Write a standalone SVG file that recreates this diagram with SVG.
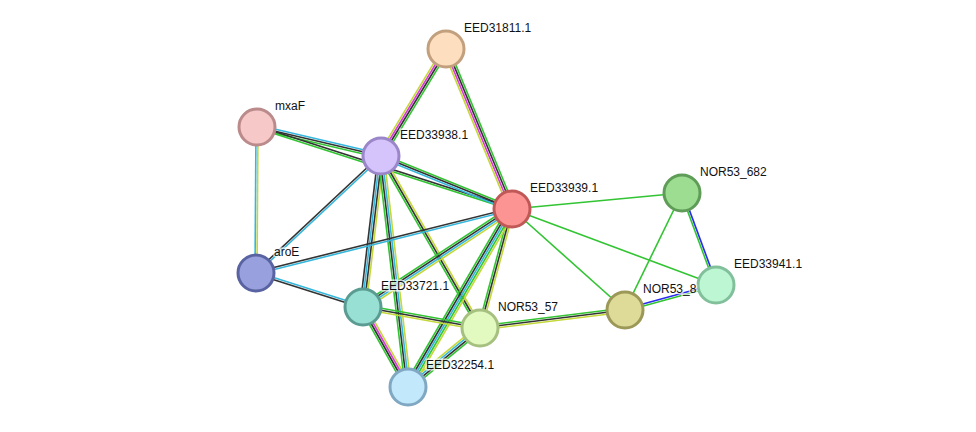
<svg xmlns="http://www.w3.org/2000/svg" width="976" height="432" viewBox="0 0 976 432">
<style>
line{stroke-width:1.6}
.g{stroke:#33c433}.k{stroke:#333}.m{stroke:#d83bd8}.y{stroke:#c4d83a}.c{stroke:#35b7dc}.b{stroke:#2b2bf0}
circle{stroke-width:3}
text{font-family:"Liberation Sans",Arial,sans-serif;font-size:12px;fill:#111;stroke:#fff;stroke-width:3px;stroke-opacity:0.7;paint-order:stroke}
</style>
<rect width="976" height="432" fill="#fff"/>
<g id="edges">
<g><line class="g" x1="446" y1="49" x2="381" y2="156" transform="translate(2.57,1.56)"/><line class="k" x1="446" y1="49" x2="381" y2="156" transform="translate(0.86,0.52)"/><line class="m" x1="446" y1="49" x2="381" y2="156" transform="translate(-0.86,-0.52)"/><line class="y" x1="446" y1="49" x2="381" y2="156" transform="translate(-2.57,-1.56)"/></g>
<g><line class="g" x1="446" y1="49" x2="512" y2="209" transform="translate(2.78,-1.14)"/><line class="k" x1="446" y1="49" x2="512" y2="209" transform="translate(0.93,-0.38)"/><line class="m" x1="446" y1="49" x2="512" y2="209" transform="translate(-0.93,0.38)"/><line class="y" x1="446" y1="49" x2="512" y2="209" transform="translate(-2.78,1.14)"/></g>
<g><line class="c" x1="257" y1="127" x2="381" y2="156" transform="translate(0.46,-1.95)"/><line class="k" x1="257" y1="127" x2="381" y2="156"/><line class="g" x1="257" y1="127" x2="381" y2="156" transform="translate(-0.46,1.95)"/></g>
<g><line class="k" x1="257" y1="127" x2="512" y2="209" transform="translate(0.3,-0.95)"/><line class="g" x1="257" y1="127" x2="512" y2="209" transform="translate(-0.3,0.95)"/></g>
<g><line class="y" x1="257" y1="127" x2="256" y2="273" transform="translate(1,0)"/><line class="c" x1="257" y1="127" x2="256" y2="273" transform="translate(-1,0)"/></g>
<g><line class="g" x1="381" y1="156" x2="512" y2="209" transform="translate(0.75,-1.85)"/><line class="k" x1="381" y1="156" x2="512" y2="209"/><line class="c" x1="381" y1="156" x2="512" y2="209" transform="translate(-0.75,1.85)"/></g>
<g><line class="c" x1="381" y1="156" x2="256" y2="273" transform="translate(0.68,0.73)"/><line class="k" x1="381" y1="156" x2="256" y2="273" transform="translate(-0.68,-0.73)"/></g>
<g><line class="y" x1="381" y1="156" x2="363" y2="307" transform="translate(2.98,0.36)"/><line class="k" x1="381" y1="156" x2="363" y2="307" transform="translate(1,0.12)"/><line class="c" x1="381" y1="156" x2="363" y2="307" transform="translate(-1,-0.12)"/><line class="k" x1="381" y1="156" x2="363" y2="307" transform="translate(-2.98,-0.36)"/></g>
<g><line class="y" x1="381" y1="156" x2="408" y2="387" transform="translate(2.98,-0.35)"/><line class="c" x1="381" y1="156" x2="408" y2="387" transform="translate(1,-0.12)"/><line class="k" x1="381" y1="156" x2="408" y2="387" transform="translate(-1,0.12)"/><line class="g" x1="381" y1="156" x2="408" y2="387" transform="translate(-2.98,0.35)"/></g>
<g><line class="y" x1="381" y1="156" x2="480" y2="328" transform="translate(1.73,-1)"/><line class="k" x1="381" y1="156" x2="480" y2="328"/><line class="g" x1="381" y1="156" x2="480" y2="328" transform="translate(-1.73,1)"/></g>
<g><line class="c" x1="512" y1="209" x2="256" y2="273" transform="translate(0.24,0.97)"/><line class="k" x1="512" y1="209" x2="256" y2="273" transform="translate(-0.24,-0.97)"/></g>
<g><line class="y" x1="512" y1="209" x2="363" y2="307" transform="translate(1.65,2.5)"/><line class="c" x1="512" y1="209" x2="363" y2="307" transform="translate(0.55,0.84)"/><line class="k" x1="512" y1="209" x2="363" y2="307" transform="translate(-0.55,-0.84)"/><line class="g" x1="512" y1="209" x2="363" y2="307" transform="translate(-1.65,-2.5)"/></g>
<g><line class="y" x1="512" y1="209" x2="480" y2="328" transform="translate(1.93,0.52)"/><line class="k" x1="512" y1="209" x2="480" y2="328"/><line class="g" x1="512" y1="209" x2="480" y2="328" transform="translate(-1.93,-0.52)"/></g>
<g><line class="y" x1="512" y1="209" x2="408" y2="387" transform="translate(3.46,2.02)"/><line class="g" x1="512" y1="209" x2="408" y2="387" transform="translate(1.73,1.01)"/><line class="c" x1="512" y1="209" x2="408" y2="387"/><line class="k" x1="512" y1="209" x2="408" y2="387" transform="translate(-1.73,-1.01)"/><line class="g" x1="512" y1="209" x2="408" y2="387" transform="translate(-3.46,-2.02)"/></g>
<line class="g" x1="512" y1="209" x2="682" y2="193"/>
<line class="g" x1="512" y1="209" x2="625" y2="310"/>
<line class="g" x1="512" y1="209" x2="716" y2="285"/>
<line class="g" x1="682" y1="193" x2="625" y2="310"/>
<g><line class="b" x1="682" y1="193" x2="716" y2="285" transform="translate(0.94,-0.35)"/><line class="g" x1="682" y1="193" x2="716" y2="285" transform="translate(-0.94,0.35)"/></g>
<g><line class="b" x1="625" y1="310" x2="716" y2="285" transform="translate(-0.27,-0.97)"/><line class="g" x1="625" y1="310" x2="716" y2="285" transform="translate(0.27,0.97)"/></g>
<g><line class="c" x1="256" y1="273" x2="363" y2="307" transform="translate(0.3,-0.95)"/><line class="k" x1="256" y1="273" x2="363" y2="307" transform="translate(-0.3,0.95)"/></g>
<g><line class="g" x1="363" y1="307" x2="480" y2="328" transform="translate(0.35,-1.97)"/><line class="k" x1="363" y1="307" x2="480" y2="328"/><line class="y" x1="363" y1="307" x2="480" y2="328" transform="translate(-0.35,1.97)"/></g>
<g><line class="y" x1="363" y1="307" x2="408" y2="387" transform="translate(2.61,-1.47)"/><line class="m" x1="363" y1="307" x2="408" y2="387" transform="translate(0.87,-0.49)"/><line class="k" x1="363" y1="307" x2="408" y2="387" transform="translate(-0.87,0.49)"/><line class="g" x1="363" y1="307" x2="408" y2="387" transform="translate(-2.61,1.47)"/></g>
<g><line class="g" x1="480" y1="328" x2="625" y2="310" transform="translate(-0.25,-1.98)"/><line class="k" x1="480" y1="328" x2="625" y2="310"/><line class="y" x1="480" y1="328" x2="625" y2="310" transform="translate(0.25,1.98)"/></g>
<g><line class="g" x1="480" y1="328" x2="408" y2="387" transform="translate(1.9,2.32)"/><line class="k" x1="480" y1="328" x2="408" y2="387" transform="translate(0.63,0.78)"/><line class="c" x1="480" y1="328" x2="408" y2="387" transform="translate(-0.63,-0.78)"/><line class="y" x1="480" y1="328" x2="408" y2="387" transform="translate(-1.9,-2.32)"/></g>
</g>
<g id="EED31811.1"><circle cx="446" cy="49" r="18" fill="#fddfc0" stroke="#c2a07e"/><text x="464" y="32">EED31811.1</text></g>
<g id="mxaF"><circle cx="257" cy="127" r="18" fill="#f6c8c8" stroke="#bb8a8a"/><text x="275" y="110">mxaF</text></g>
<g id="EED33938.1"><circle cx="381" cy="156" r="18" fill="#d5c3fb" stroke="#9a86c8"/><text x="400" y="139">EED33938.1</text></g>
<g id="EED33939.1"><circle cx="512" cy="209" r="18" fill="#fc9494" stroke="#c05858"/><text x="530" y="192">EED33939.1</text></g>
<g id="NOR53_682"><circle cx="682" cy="193" r="18" fill="#9cdd91" stroke="#5f9c57"/><text x="700" y="176">NOR53_682</text></g>
<g id="EED33941.1"><circle cx="716" cy="285" r="18" fill="#bcf6d2" stroke="#82c09b"/><text x="734" y="268">EED33941.1</text></g>
<g id="aroE"><circle cx="256" cy="273" r="18" fill="#98a1dd" stroke="#5a63a2"/><text x="274" y="256">aroE</text></g>
<g id="EED33721.1"><circle cx="363" cy="307" r="18" fill="#98dfd4" stroke="#5a9c91"/><text x="381" y="290">EED33721.1</text></g>
<g id="NOR53_57"><circle cx="480" cy="328" r="18" fill="#e2fac0" stroke="#a6c080"/><text x="498" y="311">NOR53_57</text></g>
<g id="NOR53_8"><circle cx="625" cy="310" r="18" fill="#dedb98" stroke="#9b9858"/><text x="643" y="293">NOR53_8</text></g>
<g id="EED32254.1"><circle cx="408" cy="387" r="18" fill="#c2e8fc" stroke="#80a8c2"/><text x="426" y="369">EED32254.1</text></g>
</svg>
